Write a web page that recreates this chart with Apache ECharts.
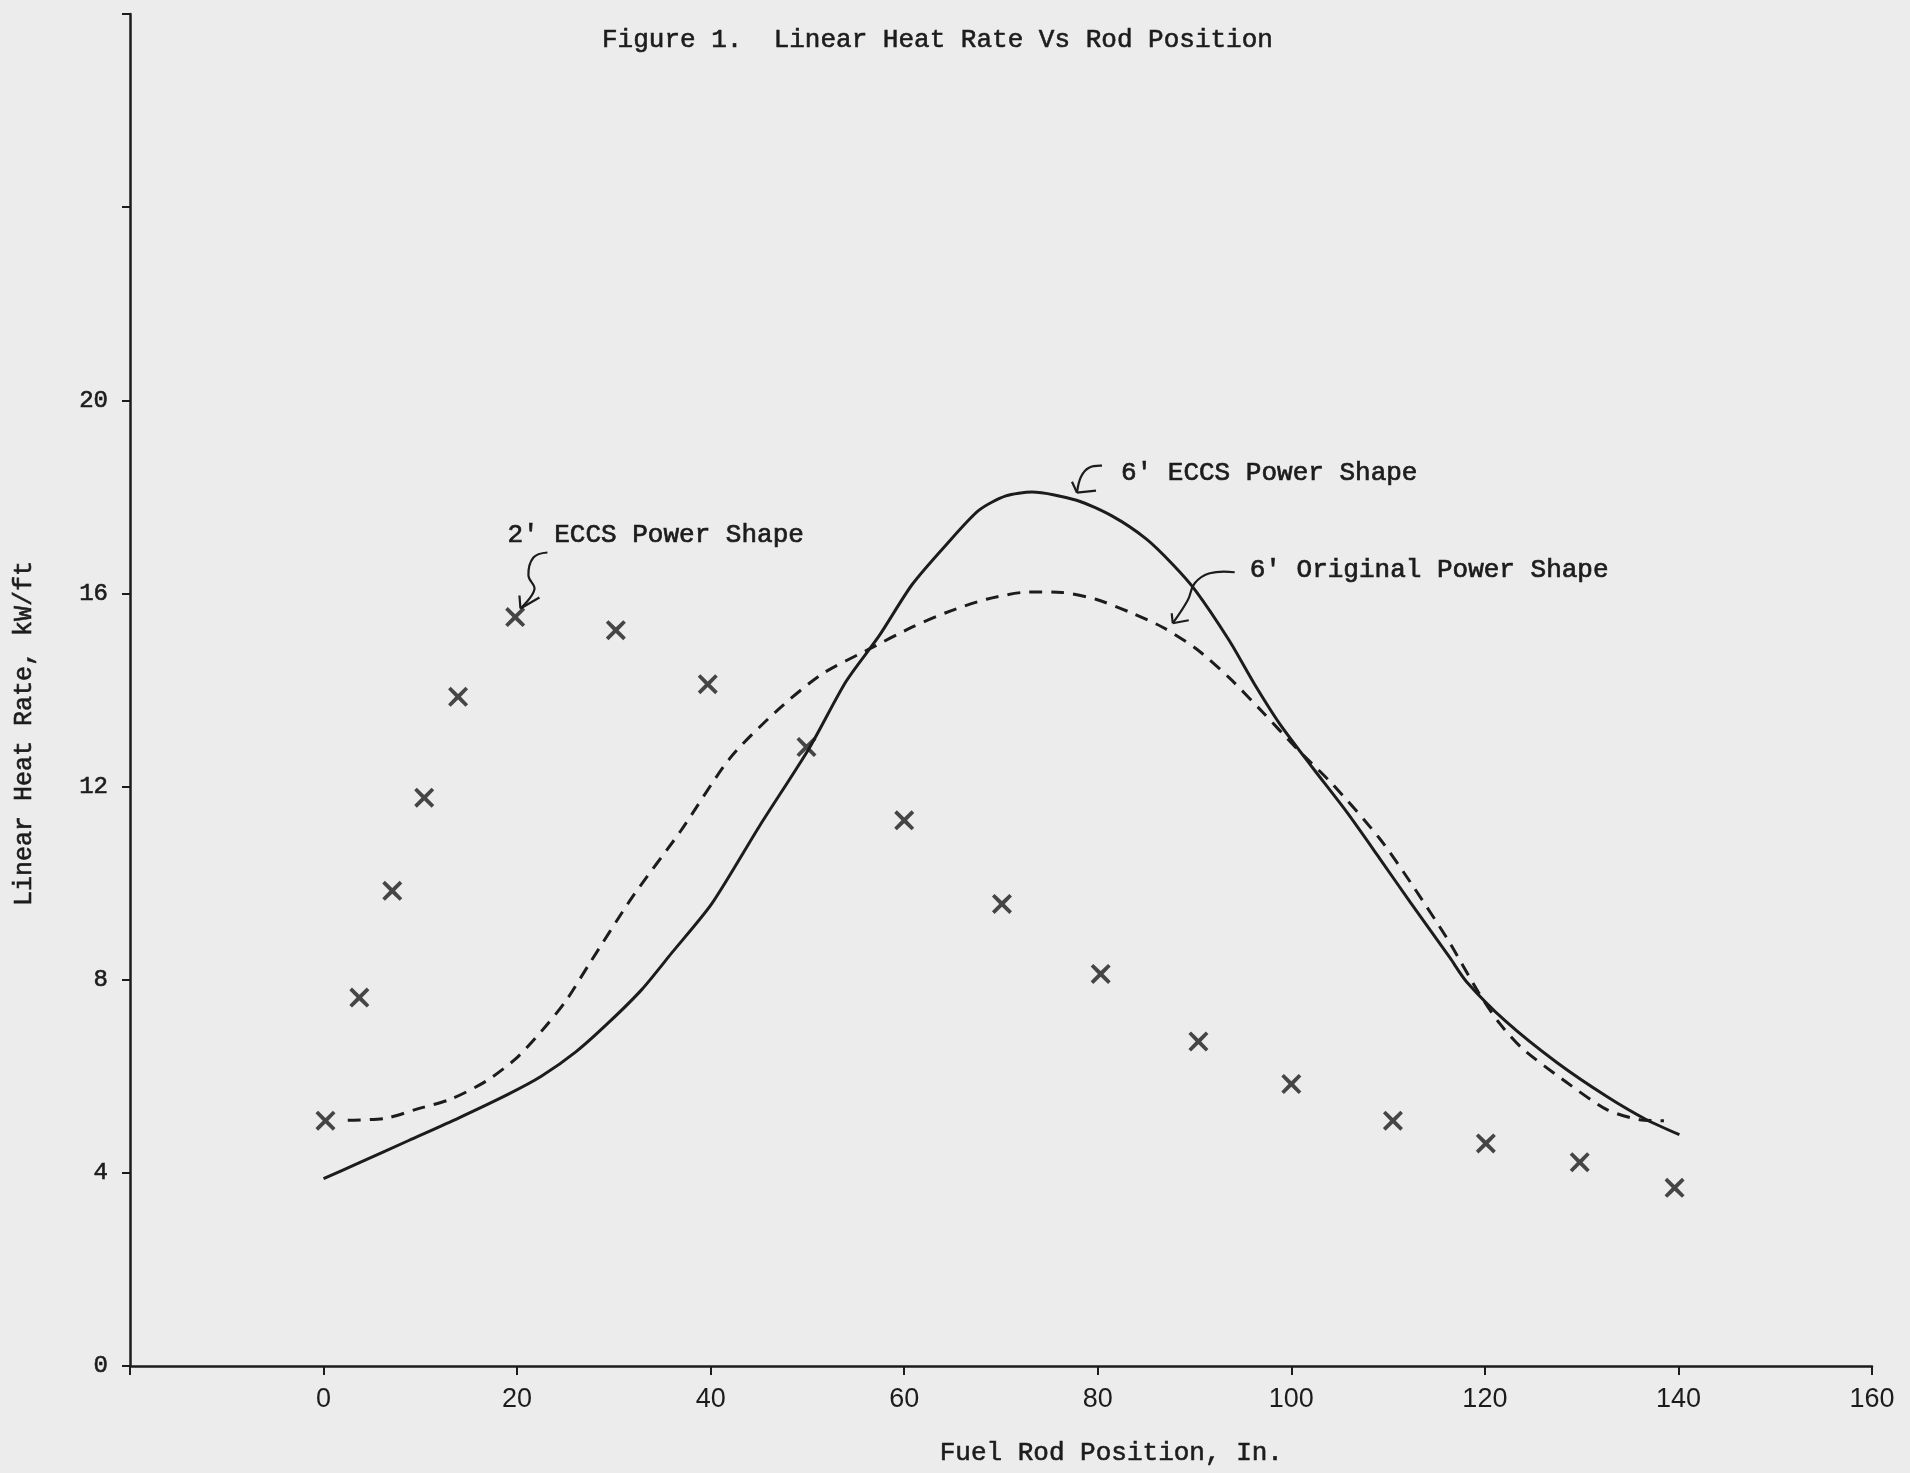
<!DOCTYPE html>
<html>
<head>
<meta charset="utf-8">
<script src="https://cdn.jsdelivr.net/npm/echarts@6/dist/echarts.min.js"></script>
<style>
html,body{margin:0;padding:0;background:#ececec;}
#c{width:1910px;height:1473px;}
</style>
</head>
<body>
<div id="c"></div>
<script>
// ---------- data ----------
const titleText = "Figure 1.  Linear Heat Rate Vs Rod Position";
const xAxisName = "Fuel Rod Position, In.";
const yAxisName = "Linear Heat Rate, kW/ft";

const xTickValues = [0, 20, 40, 60, 80, 100, 120, 140, 160];
const xTickLabels = ["0", "20", "40", "60", "80", "100", "120", "140", "160"];
const yTickValues = [0, 4, 8, 12, 16, 20];
const yTickLabels = ["0", "4", "8", "12", "16", "20"];

// 2' ECCS Power Shape (x markers)
const eccs2Positions = [0.2, 3.7, 7.1, 10.4, 13.9, 19.8, 30.2, 39.7, 49.9, 60.0, 70.1, 80.3, 90.4, 100.0, 110.5, 120.1, 129.8, 139.6];
const eccs2Values    = [5.08, 7.63, 9.84, 11.77, 13.86, 15.51, 15.24, 14.12, 12.82, 11.30, 9.57, 8.12, 6.72, 5.84, 5.08, 4.61, 4.22, 3.69];

// 6' ECCS Power Shape (solid)
const eccs6Positions = [0, 3.6, 8.8, 14.0, 19.1, 22.5, 26.1, 29.5, 32.9, 36.0, 40.1, 45.1, 50.2, 54.0, 57.4, 60.8, 64.3, 67.7, 70.5, 73.2, 77.8, 81.5, 85.0, 87.7, 90.1, 93.6, 96.2, 98.8, 102.2, 105.7, 109.1, 112.3, 116.4, 118.1, 122.2, 127.4, 132.6, 136.7, 140.1];
const eccs6Values    = [3.88, 4.20, 4.67, 5.14, 5.63, 6.00, 6.51, 7.12, 7.80, 8.56, 9.57, 11.20, 12.80, 14.18, 15.12, 16.18, 17.00, 17.72, 18.02, 18.10, 17.93, 17.60, 17.13, 16.61, 16.06, 15.02, 14.12, 13.30, 12.39, 11.48, 10.52, 9.60, 8.45, 7.96, 7.13, 6.29, 5.58, 5.10, 4.79];

// 6' Original Power Shape (dashed)
const orig6Positions = [2.5, 6.4, 9.8, 13.2, 16.8, 19.9, 22.5, 25.0, 27.4, 31.9, 36.9, 42.0, 47.0, 51.5, 56.4, 60.8, 64.3, 68.5, 72.9, 76.3, 79.8, 83.2, 86.7, 90.2, 93.6, 97.0, 100.5, 104.3, 109.1, 112.5, 116.2, 119.3, 121.5, 123.9, 128.4, 132.6, 136.0, 138.5];
const orig6Values    = [5.09, 5.13, 5.33, 5.53, 5.90, 6.37, 6.93, 7.55, 8.31, 9.71, 11.08, 12.59, 13.60, 14.33, 14.85, 15.30, 15.60, 15.88, 16.03, 16.02, 15.88, 15.62, 15.30, 14.85, 14.25, 13.55, 12.80, 12.04, 10.93, 9.96, 8.82, 7.75, 7.10, 6.57, 5.88, 5.31, 5.10, 5.08];

// annotation texts and their anchors (data coords, left-middle of text)
const annoTexts   = ["2' ECCS Power Shape", "6' ECCS Power Shape", "6' Original Power Shape"];
const annoAnchorX = [19.0, 82.4, 95.7];
const annoAnchorY = [17.2, 18.5, 16.48];

// ---------- styling / layout ----------
const ink = '#1c1c1c';
const mono = '"Liberation Mono", "DejaVu Sans Mono", monospace';
const narrow = '"Liberation Sans Narrow", "Liberation Sans", sans-serif';
const xMarker = 'path://M1.3,0 L5,3.6 L8.7,0 L10,1.3 L6.4,5 L10,8.7 L8.7,10 L5,6.4 L1.3,10 L0,8.7 L3.6,5 L0,1.3 Z';

// arrow shapes, pixel offsets from each annotation anchor
const arrowShapes = [
  { path: [[40,17],[26,22],[21,40],[27,54],[13,73]], head: [[12,60],[32,62]] },
  { path: [[-19,-7],[-32,-5],[-40,4],[-44,20]], head: [[-49,9],[-25,18]] },
  { path: [[-15,2],[-40,3],[-55,13],[-62,30],[-77,53]], head: [[-78,43],[-61,50]] }
];

const zip = (a, b) => a.map((v, i) => [v, b[i]]);

const chart = echarts.init(document.getElementById('c'), null, { renderer: 'canvas' });

const heavy = { textBorderColor: ink, textBorderWidth: 0.6 };

const option = {
  backgroundColor: '#ececec',
  animation: false,
  title: {
    text: titleText,
    left: 597, top: 22,
    textStyle: Object.assign({ fontFamily: mono, fontSize: 26, fontWeight: 'normal', color: ink }, heavy)
  },
  grid: { left: 130, right: 38, top: 14, bottom: 107, containLabel: false, outerBoundsMode: 'none' },
  xAxis: {
    type: 'value', min: -20, max: 160, interval: 20,
    axisLine: { onZero: false, lineStyle: { color: ink, width: 2.5 } },
    axisTick: { show: true, length: 9, lineStyle: { color: ink, width: 2 } },
    axisLabel: {
      margin: 20, fontFamily: narrow, fontSize: 27, color: ink,
      formatter: v => { const i = xTickValues.indexOf(v); return i >= 0 ? xTickLabels[i] : ''; }
    },
    splitLine: { show: false }
  },
  yAxis: {
    type: 'value', min: 0, max: 28, interval: 4,
    axisLine: { show: true, onZero: false, lineStyle: { color: ink, width: 2.5 } },
    axisTick: { show: true, length: 8, lineStyle: { color: ink, width: 2 } },
    axisLabel: Object.assign({
      margin: 22, fontFamily: mono, fontSize: 24, color: ink,
      formatter: v => { const i = yTickValues.indexOf(v); return i >= 0 ? yTickLabels[i] : ''; }
    }, heavy),
    splitLine: { show: false }
  },
  series: [
    {
      type: 'line', name: annoTexts[1],
      data: zip(eccs6Positions, eccs6Values),
      smooth: 0.25, showSymbol: false, symbol: 'none',
      lineStyle: { color: ink, width: 3 }
    },
    {
      type: 'line', name: annoTexts[2],
      data: zip(orig6Positions, orig6Values),
      smooth: 0.25, showSymbol: false, symbol: 'none',
      lineStyle: { color: ink, width: 3, type: [13, 9] }
    },
    {
      type: 'scatter', name: annoTexts[0],
      data: zip(eccs2Positions, eccs2Values),
      symbol: xMarker, symbolSize: 20,
      itemStyle: { color: ink }
    }
  ]
};
chart.setOption(option);

// ---------- annotations, axis names ----------
const graphics = [];
const xNamePx = chart.convertToPixel({ gridIndex: 0 }, [81.4, 0]);
graphics.push({
  type: 'text', x: xNamePx[0], y: 1453,
  style: { text: xAxisName, font: '26px ' + mono, fill: ink, textAlign: 'center', textVerticalAlign: 'middle', stroke: ink, lineWidth: 0.6 }
});
const yNamePx = chart.convertToPixel({ gridIndex: 0 }, [0, 13.1]);
graphics.push({
  type: 'text', x: 24, y: yNamePx[1], rotation: Math.PI / 2,
  style: { text: yAxisName, font: '25px ' + mono, fill: ink, textAlign: 'center', textVerticalAlign: 'middle', stroke: ink, lineWidth: 0.6 }
});

annoTexts.forEach((t, i) => {
  const p = chart.convertToPixel({ gridIndex: 0 }, [annoAnchorX[i], annoAnchorY[i]]);
  graphics.push({
    type: 'text', x: p[0], y: p[1],
    style: { text: t, font: '26px ' + mono, fill: ink, textAlign: 'left', textVerticalAlign: 'middle', stroke: ink, lineWidth: 0.7 }
  });
  const a = arrowShapes[i];
  const pts = a.path.map(q => [p[0] + q[0], p[1] + q[1]]);
  graphics.push({
    type: 'polyline', shape: { points: pts, smooth: 0.4 },
    style: { stroke: ink, lineWidth: 2.2, fill: null }
  });
  const tip = pts[pts.length - 1];
  a.head.forEach(h => {
    graphics.push({
      type: 'line', shape: { x1: tip[0], y1: tip[1], x2: p[0] + h[0], y2: p[1] + h[1] },
      style: { stroke: ink, lineWidth: 2.2 }
    });
  });
});

chart.setOption({ graphic: graphics });
</script>
</body>
</html>
